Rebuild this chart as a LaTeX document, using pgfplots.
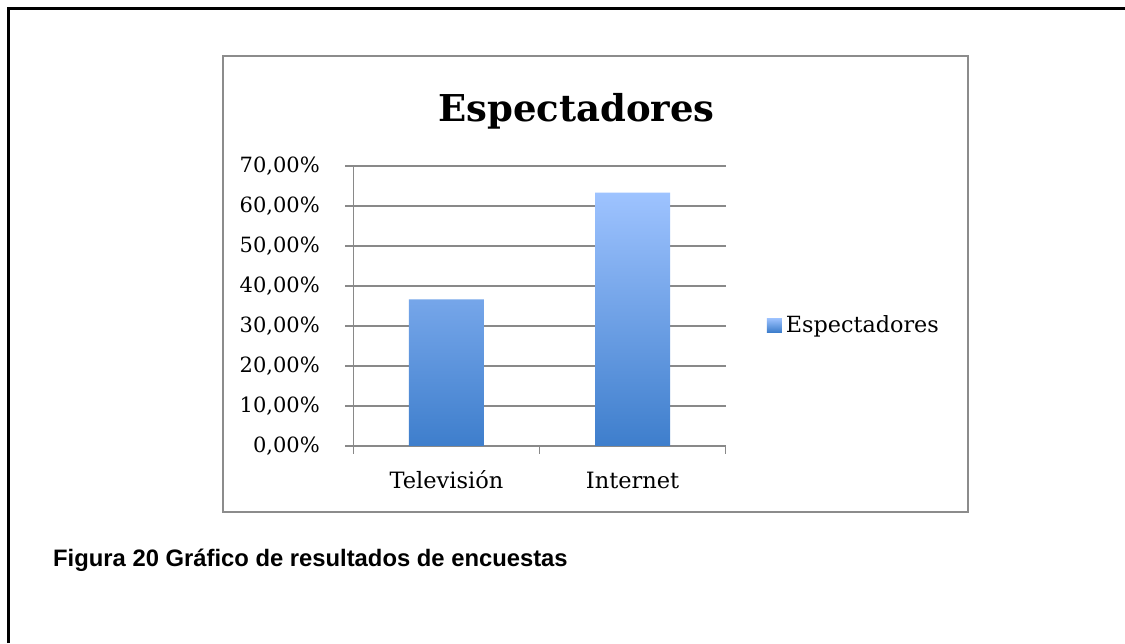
\documentclass[border=0pt]{standalone}
\usepackage{pgfplots}
\pgfplotsset{compat=1.18}
\usepackage{fontspec}
\setmainfont{DejaVu Serif}
\newfontfamily\capfont{Liberation Sans}
\definecolor{barTop}{RGB}{158,195,255}
\definecolor{barBot}{RGB}{62,126,204}
\definecolor{gridc}{RGB}{137,137,137}
\definecolor{boxc}{RGB}{140,140,140}
\begin{document}
\begin{tikzpicture}[x=1pt,y=1pt]
\useasboundingbox (0,0) rectangle (1125,643);
\fill[white] (0,0) rectangle (1125,643);
\draw[line width=3pt,black] (8.5,0) -- (8.5,634) -- (1125,634);
\draw[line width=2pt,boxc] (223,587) rectangle (968,131);
\node[font=\fontsize{37}{44}\selectfont\bfseries] at (576.5,532) {Espectadores};
\node[font=\capfont\bfseries\fontsize{23.8}{28}\selectfont, anchor=base west, inner sep=0pt] at (53,76.3) {Figura 20 Gráfico de resultados de encuestas};
\begin{axis}[
  at={(353.3pt,197pt)}, anchor=south west,
  scale only axis, width=372.4pt, height=280pt,
  xmin=-0.5, xmax=1.5, ymin=0, ymax=70,
  axis lines*=left,
  axis line style={gridc, line width=1.5pt},
  xtick={-0.5,0.5,1.5}, x tick label as interval,
  xticklabels={Televisión,Internet},
  ytick={0,10,20,30,40,50,60,70},
  yticklabels={{0,00\%},{10,00\%},{20,00\%},{30,00\%},{40,00\%},{50,00\%},{60,00\%},{70,00\%}},
  tick align=outside, major tick length=8pt,
  tick style={gridc, line width=1.5pt},
  ymajorgrids, grid style={gridc, line width=1.5pt},
  yticklabel style={font=\fontsize{21}{25}\selectfont, xshift=-22pt},
  xticklabel style={font=\fontsize{22.5}{27}\selectfont, anchor=base, yshift=-35pt},
  ybar, bar width=75pt,
  legend style={at={(rel axis cs:1.11,0.432)}, anchor=west, draw=none, fill=none,
     font=\fontsize{22.3}{27}\selectfont, inner sep=0pt,
     nodes={inner xsep=4pt}},
  legend image code/.code={\fill[top color=barTop, bottom color=barBot] (0pt,-7pt) rectangle (15pt,7pt);},
]
\addplot[draw=none, top color=barTop, bottom color=barBot] coordinates {(0,36.67) (1,63.33)};
\addlegendentry{Espectadores}
\end{axis}
\end{tikzpicture}
\end{document}
